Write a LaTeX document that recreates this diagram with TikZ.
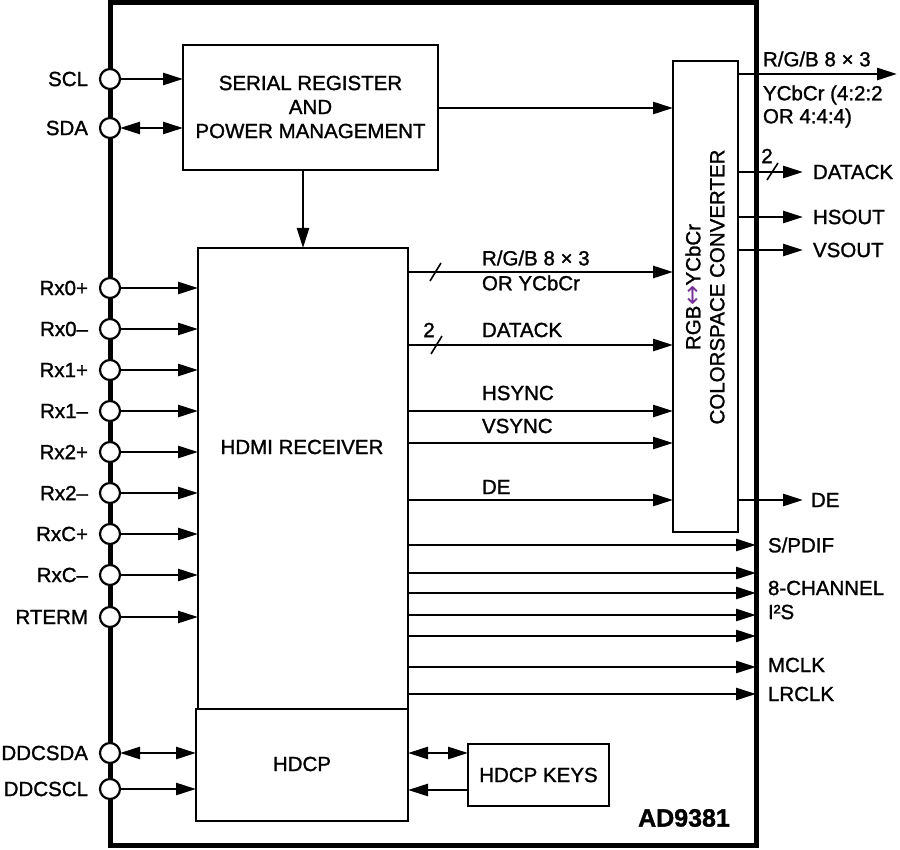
\documentclass[tikz,border=0pt]{standalone}
\usepackage{fontspec}
\setmainfont{Liberation Sans}[RawFeature={embolden=1.3}]
\newfontfamily\dejavu{DejaVu Sans}
\usetikzlibrary{arrows.meta}
\definecolor{arrowviolet}{RGB}{120,50,150}
\begin{document}
\begin{tikzpicture}[x=1pt,y=-1pt,
  txt/.style={font=\fontsize{20.5}{24}\selectfont, inner sep=0pt, outer sep=0pt},
  box/.style={draw, line width=2.8pt, inner sep=0pt, outer sep=0pt},
  pinc/.style={circle, draw, fill=white, line width=2.2pt, minimum size=20pt, inner sep=0pt, outer sep=0pt},
  arr/.style={line width=2.6pt, -{Triangle[length=20pt,width=12pt]}},
  darr/.style={line width=2.6pt, {Triangle[length=20pt,width=12pt]}-{Triangle[length=20pt,width=12pt]}},
  busmark/.style={line width=1.6pt}]
\useasboundingbox (0,0) rectangle (900,850);
% chip outline
\node[box, line width=5pt, minimum width=646pt, minimum height=842pt] (chip) at (433,424) {};
% blocks
\node[box, minimum width=255pt, minimum height=125pt] (serial) at (310.5,107.5) {};
\node[box, minimum width=210pt, minimum height=461pt] (hdmi) at (303,478.5) {};
\node[box, minimum width=212pt, minimum height=112pt] (hdcp) at (302,765) {};
\node[box, minimum width=65pt, minimum height=471pt] (conv) at (705.5,296.5) {};
\node[box, minimum width=141pt, minimum height=62pt] (keys) at (538.5,775) {};
% block texts
\node[txt, align=center] (serialtxt) at (310.5,107) {SERIAL REGISTER\\AND\\POWER MANAGEMENT};
\node[txt] (hdmitxt) at (302,447) {HDMI RECEIVER};
\node[txt] (hdcptxt) at (302,764) {HDCP};
\node[txt] (keystxt) at (538.5,775) {HDCP KEYS};
\node[txt, rotate=90, align=center] (convtxt) at (705,287) {RGB{\dejavu\fontsize{24}{24}\selectfont\color{arrowviolet}↔}YCbCr\\COLORSPACE CONVERTER};
\node[txt, font=\bfseries\fontsize{25}{28}\selectfont] (chipname) at (684,818) {AD9381};
% pins
\foreach \n/\yy/\t in {scl/79/SCL, sda/128/SDA, rxap/288/Rx0+, rxam/329/Rx0–, rxbp/370/Rx1+, rxbm/411/Rx1–, rxcp/452/Rx2+, rxcm/493/Rx2–, rxkp/534/RxC+, rxkm/575/RxC–, rterm/617/RTERM, ddcsda/753/DDCSDA, ddcscl/789/DDCSCL}{
  \node[pinc] (\n) at (110,\yy) {};
  \node[txt, anchor=east] (\n-l) at (88,\yy) {\t};
}
% pin connectors
\draw[arr] (scl.east) -- (scl -| serial.west);
\draw[darr] (sda.east) -- (sda -| serial.west);
\foreach \n in {rxap,rxam,rxbp,rxbm,rxcp,rxcm,rxkp,rxkm,rterm}{
  \draw[arr] (\n.east) -- (\n -| hdmi.west);
}
\draw[darr] (ddcsda.east) -- (ddcsda -| hdcp.west);
\draw[arr] (ddcscl.east) -- (ddcscl -| hdcp.west);
% serial register connections
\draw[arr] (serial.south -| hdmi.north) -- (hdmi.north);
\draw[arr] (serial.east |- 0,108) -- (conv.west |- 0,108);
% HDMI to converter
\draw[arr] (hdmi.east |- 0,272) -- (conv.west |- 0,272);
\draw[arr] (hdmi.east |- 0,345) -- (conv.west |- 0,345);
\draw[arr] (hdmi.east |- 0,411) -- (conv.west |- 0,411);
\draw[arr] (hdmi.east |- 0,443) -- (conv.west |- 0,443);
\draw[arr] (hdmi.east |- 0,500) -- (conv.west |- 0,500);
\draw[busmark] (430,281) -- (441,263);
\draw[busmark] (431,354) -- (442,336);
\node[txt, anchor=west] (l-rgbin) at (482,258) {R/G/B 8 × 3};
\node[txt, anchor=west] (l-ycin) at (482,283) {OR YCbCr};
\node[txt, anchor=west] (l-datin) at (482,330) {DATACK};
\node[txt] (l-two) at (429,330) {2};
\node[txt, anchor=west] (l-hs) at (482,393) {HSYNC};
\node[txt, anchor=west] (l-vs) at (482,426) {VSYNC};
\node[txt, anchor=west] (l-dein) at (482,487) {DE};
% converter outputs
\coordinate (o-rgb) at (897,74);
\coordinate (o-dat) at (803,172);
\coordinate (o-hs) at (803,217);
\coordinate (o-vs) at (803,250);
\coordinate (o-de) at (803,500);
\draw[arr] (conv.east |- o-rgb) -- (o-rgb);
\draw[arr] (conv.east |- o-dat) -- (o-dat);
\draw[arr] (conv.east |- o-hs) -- (o-hs);
\draw[arr] (conv.east |- o-vs) -- (o-vs);
\draw[arr] (conv.east |- o-de) -- (o-de);
\draw[busmark] (767,180) -- (778,163);
\node[txt] (l-two2) at (767,156) {2};
\node[txt, anchor=west] (l-rgbout) at (763,59) {R/G/B 8 × 3};
\node[txt, anchor=west] (l-ycout) at (763,95) {YCbCr (4:2:2};
\node[txt, anchor=west] (l-orout) at (763,118) {OR 4:4:4)};
\node[txt, anchor=west] (l-datout) at (813,172) {DATACK};
\node[txt, anchor=west] (l-hsout) at (813,217) {HSOUT};
\node[txt, anchor=west] (l-vsout) at (813,250) {VSOUT};
\node[txt, anchor=west] (l-deout) at (811,500) {DE};
% audio outputs
\foreach \yy in {545,573,593,615,636,667,694}{
  \draw[arr] (hdmi.east |- 0,\yy) -- (chip.east |- 0,\yy);
}
\node[txt, anchor=west] (l-spdif) at (768,545) {S/PDIF};
\node[txt, anchor=west] (l-8ch) at (768,588) {8-CHANNEL};
\node[txt, anchor=west] (l-i2s) at (768,612) {I²S};
\node[txt, anchor=west] (l-mclk) at (768,665) {MCLK};
\node[txt, anchor=west] (l-lrclk) at (768,694) {LRCLK};
% HDCP keys
\draw[darr] (hdcp.east |- 0,753) -- (keys.west |- 0,753);
\draw[arr] (keys.west |- 0,790) -- (hdcp.east |- 0,790);
\end{tikzpicture}
\end{document}
